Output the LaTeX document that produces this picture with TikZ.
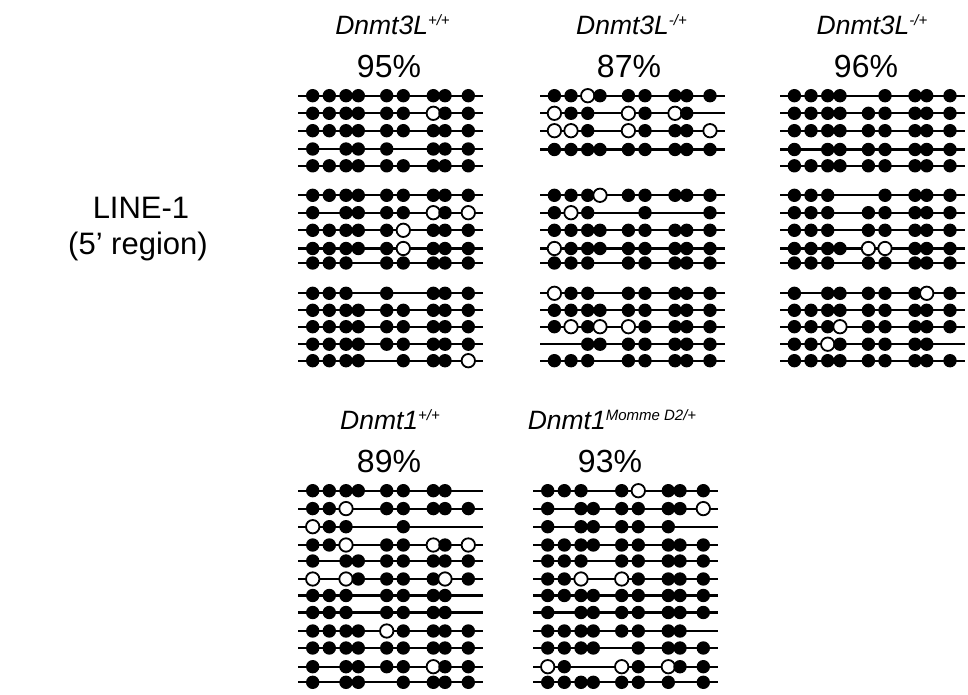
\documentclass[tikz,border=0pt]{standalone}
\usepackage{fontspec}
\setmainfont{Liberation Sans}
\tikzset{
  rowline/.style={line width=2.2pt, black},
  siteF/.style={fill=black},
  siteO/.style={draw=black, fill=white, line width=1.8pt},
  siteN/.style={},
  pct/.style={font=\fontsize{32}{36}\selectfont, anchor=base},
  gname/.style={font=\fontsize{26.5}{30}\selectfont\itshape, anchor=base},
  side/.style={font=\fontsize{31}{36}\selectfont, anchor=base},
}
\def\sitepos{{14.4,31,47.7,60,88.4,105,135,146.7,170}}
\newcommand{\mrow}[3]{%
  \draw[rowline] (#1,#2) -- ++(185,0);
  \foreach \s [count=\i from 0] in {#3}{%
    \pgfmathsetmacro\px{\sitepos[\i]}%
    \path[site\s] ({#1+\px},#2) circle[radius=\ifx\s O5.8pt\else6.7pt\fi];
  }%
}
\newcommand{\sups}[1]{\raisebox{8.5pt}{\fontsize{15}{15}\selectfont #1}}
\begin{document}
\begin{tikzpicture}[x=1pt,y=-1pt]
\useasboundingbox (0,0) rectangle (968,695);
\fill[white] (0,0) rectangle (968,695);
% side label
\node[side] (lab1) at (141,218) {LINE-1};
\node[side] (lab2) at (138,254) {(5’ region)};
% titles
\node[gname] (t1) at (392.5,34.3) {Dnmt3L\sups{+/+}};
\node[pct] (p1) at (389,77.3) {95\%};
\node[gname] (t2) at (631.5,34.3) {Dnmt3L\sups{-/+}};
\node[pct] (p2) at (629,77.3) {87\%};
\node[gname] (t3) at (872,34.3) {Dnmt3L\sups{-/+}};
\node[pct] (p3) at (866,77.3) {96\%};
\node[gname] (t4) at (390,429.3) {Dnmt1\sups{+/+}};
\node[pct] (p4) at (389,472.3) {89\%};
\node[gname] (t5) at (612,429.3) {Dnmt1\sups{Momme D2/+}};
\node[pct] (p5) at (610,472.3) {93\%};
% panel 1
\def\X{298.3}
\mrow{\X}{95.7}{F,F,F,F,F,F,F,F,F}
\mrow{\X}{113.3}{F,F,F,F,F,F,O,F,F}
\mrow{\X}{130.7}{F,F,F,F,F,F,F,F,F}
\mrow{\X}{149}{F,N,F,F,F,N,F,F,F}
\mrow{\X}{165.8}{F,F,F,F,F,F,F,F,F}
\mrow{\X}{195.3}{F,F,F,F,F,F,F,F,F}
\mrow{\X}{212.7}{F,N,F,F,F,F,O,F,O}
\mrow{\X}{230.3}{F,F,F,F,F,O,F,F,F}
\mrow{\X}{248.5}{F,F,F,F,F,O,F,F,F}
\mrow{\X}{263}{F,F,F,N,F,F,F,F,F}
\mrow{\X}{293.3}{F,F,F,N,F,N,F,F,F}
\mrow{\X}{310.3}{F,F,F,F,F,F,F,F,F}
\mrow{\X}{326.7}{F,F,F,F,F,F,F,F,F}
\mrow{\X}{344.2}{F,F,F,F,F,F,F,F,F}
\mrow{\X}{360.7}{F,F,F,F,N,F,F,F,O}
% panel 2
\def\X{540}
\mrow{\X}{95.7}{F,F,O,F,F,F,F,F,F}
\mrow{\X}{113.3}{O,F,F,N,O,F,O,F,N}
\mrow{\X}{130.7}{O,O,F,N,O,F,F,F,O}
\mrow{\X}{149.5}{F,F,F,F,F,F,F,F,F}
\mrow{\X}{195.3}{F,F,F,O,F,F,F,F,F}
\mrow{\X}{212.7}{F,O,F,N,N,F,N,N,F}
\mrow{\X}{230.3}{F,F,F,F,F,F,F,F,F}
\mrow{\X}{248.5}{O,F,F,F,F,F,F,F,F}
\mrow{\X}{263}{F,F,F,N,F,F,F,F,F}
\mrow{\X}{293.3}{O,F,F,N,F,F,F,F,F}
\mrow{\X}{310.3}{F,F,F,F,F,F,F,F,F}
\mrow{\X}{326.7}{F,O,F,O,O,F,F,F,F}
\mrow{\X}{344.2}{N,N,F,F,F,F,F,F,F}
\mrow{\X}{360.7}{F,F,F,N,F,F,F,F,F}
% panel 3
\def\X{780}
\mrow{\X}{95.7}{F,F,F,F,N,F,F,F,F}
\mrow{\X}{113.3}{F,F,F,F,F,F,F,F,F}
\mrow{\X}{130.7}{F,F,F,F,F,F,F,F,F}
\mrow{\X}{149.5}{F,N,F,F,F,F,F,F,F}
\mrow{\X}{165.8}{F,F,F,F,F,F,F,F,F}
\mrow{\X}{195.3}{F,F,F,N,N,F,F,F,F}
\mrow{\X}{212.7}{F,F,F,N,F,F,F,F,F}
\mrow{\X}{230.3}{F,F,F,N,F,F,F,F,F}
\mrow{\X}{248.5}{F,F,F,F,O,O,F,F,F}
\mrow{\X}{263}{F,F,F,N,F,F,F,F,F}
\mrow{\X}{293.3}{F,N,F,F,F,F,F,O,F}
\mrow{\X}{310.3}{F,F,F,F,F,F,F,F,F}
\mrow{\X}{326.7}{F,F,F,O,F,F,F,F,F}
\mrow{\X}{344.2}{F,F,O,F,F,F,F,F,N}
\mrow{\X}{360.7}{F,F,F,F,F,F,F,F,F}
% panel 4
\def\X{298.3}
\mrow{\X}{490.7}{F,F,F,F,F,F,F,F,N}
\mrow{\X}{508.6}{F,F,O,N,F,F,F,F,F}
\mrow{\X}{526.7}{O,F,F,N,N,F,N,N,N}
\mrow{\X}{545}{F,F,O,N,F,F,O,F,O}
\mrow{\X}{561}{F,N,F,F,F,F,F,F,F}
\mrow{\X}{579}{O,N,O,F,F,F,F,O,F}
\mrow{\X}{595.5}{F,F,F,N,F,F,F,F,N}
\mrow{\X}{612.5}{F,F,F,N,F,F,F,F,N}
\mrow{\X}{631}{F,F,F,F,O,F,F,F,F}
\mrow{\X}{648}{F,F,F,F,F,F,F,F,F}
\mrow{\X}{666.7}{F,N,F,F,F,F,O,F,F}
\mrow{\X}{682.3}{F,N,F,F,N,F,F,F,F}
% panel 5
\def\X{533.3}
\mrow{\X}{490.7}{F,F,F,N,F,O,F,F,F}
\mrow{\X}{508.6}{F,N,F,F,F,F,F,F,O}
\mrow{\X}{526.7}{F,N,F,F,F,F,F,N,N}
\mrow{\X}{545}{F,F,F,F,F,F,F,F,F}
\mrow{\X}{561}{F,F,F,N,F,F,F,F,F}
\mrow{\X}{579}{F,F,O,N,O,F,F,F,F}
\mrow{\X}{595.5}{F,F,F,F,F,F,F,F,F}
\mrow{\X}{612.5}{F,N,F,F,F,F,F,F,F}
\mrow{\X}{631}{F,F,F,F,F,F,F,F,N}
\mrow{\X}{648}{F,F,F,F,N,F,F,F,F}
\mrow{\X}{666.7}{O,F,N,N,O,F,O,F,F}
\mrow{\X}{682.3}{F,F,F,F,F,F,F,N,F}
\end{tikzpicture}
\end{document}
